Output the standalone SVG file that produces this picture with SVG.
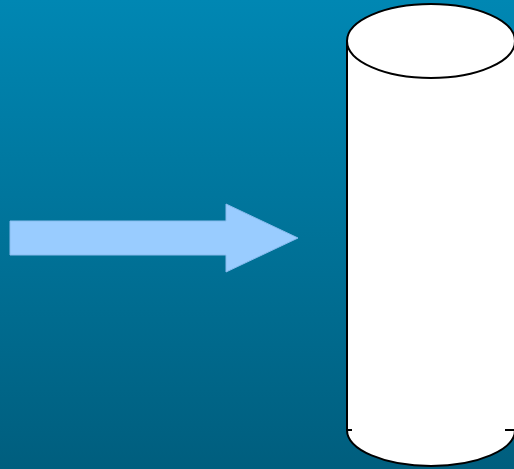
<svg xmlns="http://www.w3.org/2000/svg" width="514" height="469" viewBox="0 0 514 469">
<defs>
<linearGradient id="bg" x1="0" y1="0" x2="0" y2="1">
<stop offset="0" stop-color="#0087b3"/>
<stop offset="1" stop-color="#005e7e"/>
</linearGradient>
<style>
.cyl{fill:#ffffff;stroke:#000000;stroke-width:2}
.arrow{fill:#99ccff;stroke:#88bbee;stroke-width:1}
</style>
</defs>
<rect x="0" y="0" width="514" height="469" fill="url(#bg)"/>
<g id="connectors">
<polygon id="arrow" class="arrow" points="10,221 226,221 226,204 298,238 226,272 226,255 10,255"/>
</g>
<g id="cylinder">
<path class="cyl" d="M347,41 L347,430 A84,36 0 0 0 515,430 L515,41 Z"/>
<ellipse class="cyl" cx="431" cy="41" rx="84" ry="37"/>
<line x1="347" y1="430" x2="352" y2="430" stroke="#000" stroke-width="2"/>
<line x1="505" y1="430" x2="515" y2="430" stroke="#000" stroke-width="2"/>
</g>
</svg>
